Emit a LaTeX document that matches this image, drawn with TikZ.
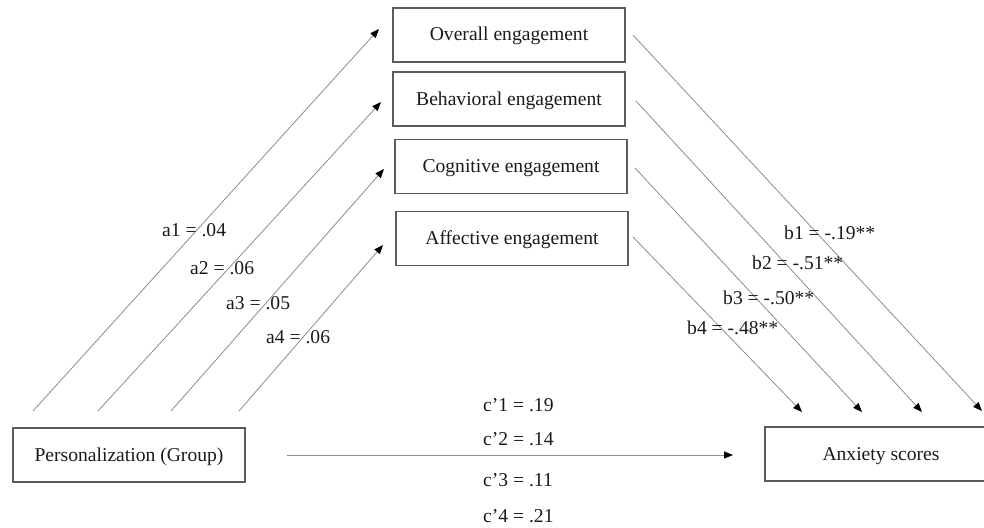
\documentclass[tikz,border=0pt]{standalone}
\usepackage{fontspec}
\setmainfont{Liberation Serif}
\usetikzlibrary{arrows.meta}
\definecolor{wire}{HTML}{8C8C8C}
\definecolor{frame}{HTML}{5C5C5C}
\definecolor{ink}{HTML}{1A1A1A}

\begin{document}
\begin{tikzpicture}[x=1pt,y=-1pt,text=ink,font=\fontsize{19.6}{23}\selectfont,
  box/.style={draw=frame,line width=1.4pt,minimum width=232pt,minimum height=54pt,inner sep=0pt,
    text height=12pt,text depth=0pt},
  link/.style={wire,line width=0.8pt,-{Triangle[length=9pt,width=7pt,color=black]}},
  coef/.style={anchor=west,inner sep=0pt}]
  \useasboundingbox (0,0) rectangle (984,527);
  % boxes
  \node[box] (overall) at (509,35) {Overall engagement};
  \node[box] (behav) at (509,99) {Behavioral engagement};
  \node[box] (cogn) at (511,166.5) {Cognitive engagement};
  \node[box] (affect) at (512,238.5) {Affective engagement};
  \node[box] (group) at (129,455) {Personalization (Group)};
  \node[box] (anxiety) at (881,454) {Anxiety scores};

  % free ends of the a and b paths
  \coordinate (a1s) at (33,411);  \coordinate (a1e) at (379,29);
  \coordinate (a2s) at (98,411);  \coordinate (a2e) at (381,102);
  \coordinate (a3s) at (171,411); \coordinate (a3e) at (384,169);
  \coordinate (a4s) at (239,411); \coordinate (a4e) at (383,245);
  \coordinate (b1s) at (633,35);  \coordinate (b1e) at (982,411);
  \coordinate (b2s) at (636,101); \coordinate (b2e) at (922,412);
  \coordinate (b3s) at (635,168); \coordinate (b3e) at (862,412);
  \coordinate (b4s) at (633,237); \coordinate (b4e) at (802,412);
  \coordinate (cs) at (287,455);  \coordinate (ce) at (733,455);

  \draw[link] (a1s)--(a1e);
  \draw[link] (a2s)--(a2e);
  \draw[link] (a3s)--(a3e);
  \draw[link] (a4s)--(a4e);
  \draw[link] (b1s)--(b1e);
  \draw[link] (b2s)--(b2e);
  \draw[link] (b3s)--(b3e);
  \draw[link] (b4s)--(b4e);
  \draw[link] (cs)--(ce);

  % coefficients
  \node[coef] (la1) at (162,230) {a1 = .04};
  \node[coef] (la2) at (190,268) {a2 = .06};
  \node[coef] (la3) at (226,303) {a3 = .05};
  \node[coef] (la4) at (266,337) {a4 = .06};
  \node[coef] (lb1) at (784,233) {b1 = -.19**};
  \node[coef] (lb2) at (752,263) {b2 = -.51**};
  \node[coef] (lb3) at (723,298) {b3 = -.50**};
  \node[coef] (lb4) at (687,328) {b4 = -.48**};
  \node[coef] (lc1) at (483,405) {c’1 = .19};
  \node[coef] (lc2) at (483,439) {c’2 = .14};
  \node[coef] (lc3) at (483,480) {c’3 = .11};
  \node[coef] (lc4) at (483,516) {c’4 = .21};
\end{tikzpicture}
\end{document}
